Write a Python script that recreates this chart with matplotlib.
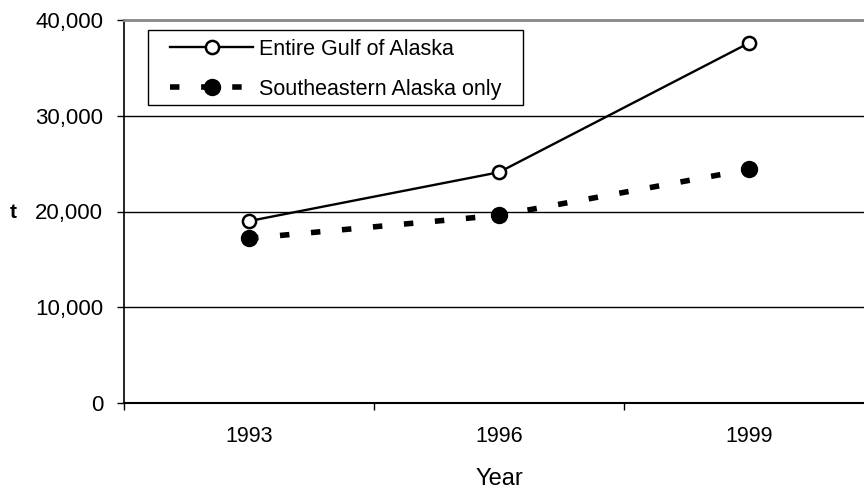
import matplotlib
matplotlib.use('Agg')
from matplotlib import pyplot as plt
from matplotlib.patches import Rectangle
from matplotlib.ticker import FuncFormatter

plt.rcParams['font.family'] = ['Liberation Sans', 'DejaVu Sans']

years = ['1993', '1996', '1999']
entire_gulf = [19000, 24100, 37600]
southeast_only = [17200, 19600, 24400]

W, H = 864, 492
fig = plt.figure(figsize=(W / 100, H / 100), dpi=100)
ax = fig.add_axes([124/W, 1 - 403/H, 750/W, 383/H])

x = [1, 2, 3]
ax.plot(x, entire_gulf, color='black', lw=1.7, marker='o', ms=9.5,
        mfc='white', mec='black', mew=1.8, label='Entire Gulf of Alaska', zorder=3)
ax.plot(x, southeast_only, color='black', lw=4, ls=(0, (1.7, 3.9)), marker='o', ms=11.5,
        mfc='black', mec='black', label='Southeastern Alaska only', zorder=3)

ax.set_xlim(0.5, 3.5)
ax.set_ylim(0, 40000)
ax.set_yticks([0, 10000, 20000, 30000, 40000])
ax.yaxis.set_major_formatter(FuncFormatter(lambda v, p: f'{int(v):,}'))
ax.set_xticks(x)
ax.set_xticklabels(years)
ax.set_xticks([0.5, 1.5, 2.5, 3.5], minor=True)
ax.tick_params(axis='x', which='major', length=0, pad=16.5, labelsize=15.5)
ax.tick_params(axis='x', which='minor', length=5, width=1, direction='out')
ax.tick_params(axis='y', length=5, width=1, direction='out', labelsize=16, pad=10)

for v in [10000, 20000, 30000]:
    ax.axhline(v, color='black', lw=1, zorder=1)
ax.spines['top'].set_color('#888888')
ax.spines['top'].set_linewidth(2)
ax.spines['right'].set_visible(False)
ax.spines['left'].set_linewidth(1.2)
ax.spines['bottom'].set_linewidth(1.5)

ax.set_xlabel('Year', fontsize=17, labelpad=15)
fig.text(10/W, 1 - 212/H, 't', fontsize=15, fontweight='bold', va='center', ha='left')

# legend box drawn separately so its padding matches the original
fig.patches.append(Rectangle((148/W, 1 - 105/H), 375/W, 75/H, transform=fig.transFigure,
                             fill=True, facecolor='white', edgecolor='black', lw=1, zorder=4))
leg = fig.legend(loc='upper left', bbox_to_anchor=(170/W, 1 - 39/H), fontsize=15.5,
                 frameon=False, handlelength=3.86, borderpad=0, borderaxespad=0,
                 labelspacing=0.88, handletextpad=0.28)
leg.set_zorder(5)

fig.savefig('out.png', dpi=100)
